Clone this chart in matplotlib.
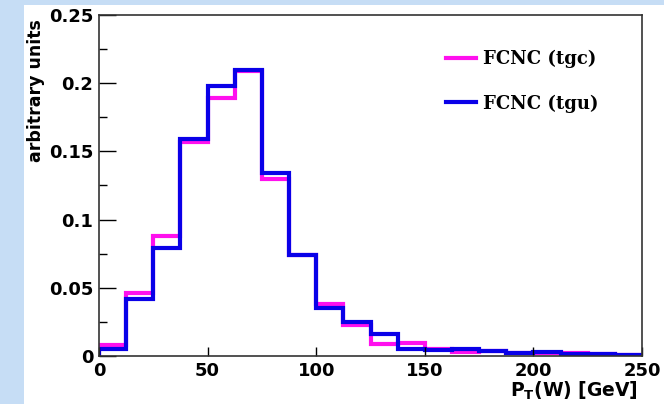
import numpy as np
import matplotlib
matplotlib.use("Agg")
import matplotlib.pyplot as plt
from matplotlib.patches import Rectangle
from matplotlib.ticker import MultipleLocator, FixedLocator, FixedFormatter

# 12.5 GeV bins from 0 to 250
bin_edges = np.arange(0, 250.1, 12.5)

# FCNC (tgc)
tgc = [0.008, 0.046, 0.088, 0.157, 0.189, 0.209, 0.130, 0.074, 0.038, 0.0225,
       0.0086, 0.0098, 0.005, 0.003, 0.0035, 0.0025, 0.0025, 0.002, 0.0015, 0.001]
# FCNC (tgu)
tgu = [0.005, 0.042, 0.079, 0.159, 0.198, 0.210, 0.134, 0.074, 0.035, 0.025,
       0.016, 0.005, 0.0045, 0.005, 0.0035, 0.0025, 0.003, 0.0017, 0.0017, 0.001]

x_ticks = [0, 50, 100, 150, 200, 250]
y_ticks = [0, 0.05, 0.1, 0.15, 0.2, 0.25]
y_tick_labels = ["0", "0.05", "0.1", "0.15", "0.2", "0.25"]

W, H = 664, 404
fig = plt.figure(figsize=(W / 100, H / 100), dpi=100)
fig.patch.set_facecolor("#c6ddf5")
# white slide area behind the plot
fig.patches.append(Rectangle((24 / W, 0), 1, 1 - 5 / H, transform=fig.transFigure,
                             facecolor="white", edgecolor="none", zorder=-5))

ax = fig.add_axes([99 / W, (H - 356) / H, (642 - 99) / W, (356 - 15) / H])
ax.set_facecolor("white")

ax.stairs(tgc, bin_edges, color="#ff10ee", linewidth=3.0, label="FCNC (tgc)")
ax.stairs(tgu, bin_edges, color="#0a00e8", linewidth=3.0, label="FCNC (tgu)")

ax.set_xlim(0, 250)
ax.set_ylim(0, 0.25)

ax.xaxis.set_major_locator(FixedLocator(x_ticks))
ax.yaxis.set_major_locator(FixedLocator(y_ticks))
ax.yaxis.set_major_formatter(FixedFormatter(y_tick_labels))
ax.yaxis.set_minor_locator(MultipleLocator(0.025))

ax.tick_params(axis="x", direction="in", length=6.5, width=1, pad=4,
               labelsize=13, top=False)
ax.tick_params(axis="y", which="major", direction="in", length=12, width=1, pad=4,
               labelsize=13, right=False)
ax.tick_params(axis="y", which="minor", direction="in", length=6, width=1, right=False)
for lab in ax.get_xticklabels() + ax.get_yticklabels():
    lab.set_fontweight("bold")

for sp in ax.spines.values():
    sp.set_linewidth(1.2)
    sp.set_color("#333333")

fig.text(36 / W, 1 - 19 / H, "arbitrary units", rotation=90, ha="center", va="top",
         fontsize=12.5, fontweight="bold")
fig.text(638 / W, 1 - 397 / H, r"P$_{\mathbf{T}}$(W) [GeV]", ha="right", va="baseline",
         fontsize=13.5, fontweight="bold")

ax.legend(loc="upper left", bbox_to_anchor=(446 / W, 1 - 50 / H),
          bbox_transform=fig.transFigure, frameon=False, borderpad=0,
          borderaxespad=0, handlelength=1.65, handletextpad=0.4, labelspacing=1.45,
          prop={"family": "DejaVu Serif", "weight": "bold", "size": 13})

fig.savefig("out.png", dpi=100, facecolor=fig.get_facecolor())
